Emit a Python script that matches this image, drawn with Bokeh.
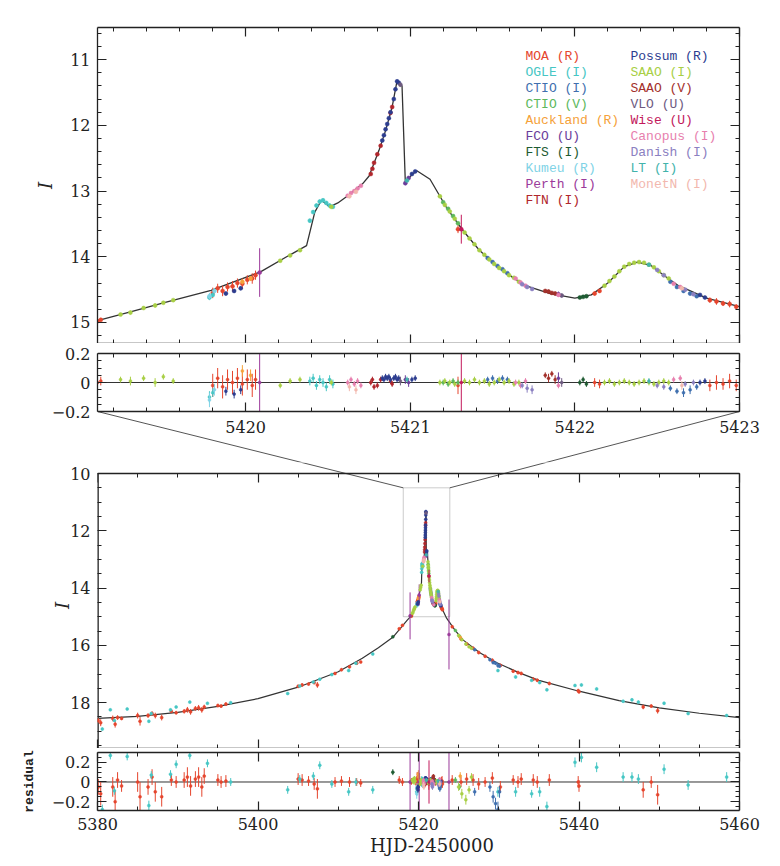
import numpy as np
from bokeh.plotting import figure
from bokeh.layouts import column
from bokeh.models import Range1d, LinearAxis, FixedTicker, ColumnDataSource, BoxAnnotation, Title
from bokeh.core.properties import value
from bokeh.embed import file_html
from bokeh.resources import INLINE

# ---------------- model light curve (HJD-2450000, I mag) ----------------
MODEL_T = [5380.0, 5385.0, 5390.0, 5395.0, 5400.0, 5405.0, 5410.0, 5413.0, 5415.0, 5416.8,
           5418.0, 5418.6, 5419.10, 5419.30, 5419.50, 5419.79, 5420.09, 5420.27, 5420.37, 5420.42,
           5420.46, 5420.51, 5420.56, 5420.61, 5420.71, 5420.75, 5420.81, 5420.85, 5420.89, 5420.92,
           5420.95, 5420.97, 5421.01, 5421.04, 5421.12, 5421.22, 5421.32, 5421.42, 5421.52, 5421.62,
           5421.70, 5421.85, 5422.00, 5422.10, 5422.20, 5422.30, 5422.38, 5422.46, 5422.55, 5422.63,
           5422.80, 5423.00, 5423.50, 5424.50, 5425.50, 5427.60, 5429.70, 5432.50, 5435.00, 5440.00,
           5445.00, 5450.00, 5455.00, 5460.00]
MODEL_I = [18.55, 18.48, 18.34, 18.13, 17.86, 17.46, 16.92, 16.45, 16.08, 15.72,
           15.32, 15.12, 14.97, 14.84, 14.70, 14.51, 14.23, 13.97, 13.83, 13.32,
           13.14, 13.24, 13.18, 13.09, 12.89, 12.77, 12.38, 12.08, 11.72, 11.32,
           11.40, 12.87, 12.75, 12.69, 12.82, 13.25, 13.60, 13.90, 14.13, 14.31,
           14.44, 14.56, 14.63, 14.58, 14.40, 14.15, 14.08, 14.13, 14.30, 14.44,
           14.63, 14.76, 15.05, 15.45, 15.80, 16.25, 16.60, 16.95, 17.22, 17.60,
           17.93, 18.18, 18.37, 18.52]

# ---------------- observations: time, I, error, residual ----------------
MOA_T = [5380.1, 5380.4, 5381.9, 5382.2, 5382.5, 5383.0, 5385.0, 5385.3, 5386.3, 5386.8, 5387.2, 5388.0,
         5389.2, 5389.8, 5390.8, 5391.2, 5391.6, 5392.2, 5392.6, 5393.0, 5393.3, 5395.0, 5395.4, 5396.0,
         5405.0, 5405.5, 5406.3, 5407.0, 5407.4, 5409.6, 5410.4, 5411.4, 5412.3, 5412.8, 5417.6, 5418.0,
         5419.10, 5419.12, 5419.80, 5419.83, 5419.86, 5419.89, 5419.92, 5419.95, 5419.98, 5420.01, 5420.04,
         5420.06, 5421.29, 5422.12, 5422.15, 5422.82, 5422.86, 5422.90, 5422.94, 5422.98,
         5424.2, 5425.3, 5426.0, 5426.8, 5427.5, 5428.3, 5429.2, 5430.2, 5431.8, 5432.4, 5432.8,
         5434.3, 5434.8, 5436.3, 5439.9, 5440.0, 5448.0, 5449.0, 5449.8]
MOA_I = [18.62, 18.70, 18.55, 18.75, 18.52, 18.55, 18.45, 18.65, 18.45, 18.38, 18.45, 18.52,
         18.30, 18.35, 18.30, 18.25, 18.32, 18.20, 18.18, 18.25, 18.15, 18.10, 18.12, 18.05,
         17.43, 17.38, 17.35, 17.30, 17.38, 16.98, 16.85, 16.75, 16.62, 16.58, 15.42, 15.30,
         14.98, 14.96, 14.55, 14.48, 14.52, 14.46, 14.45, 14.40, 14.41, 14.35, 14.33,
         14.28, 13.58, 14.56, 14.52, 14.66, 14.68, 14.71, 14.72, 14.76,
         15.35, 15.78, 15.95, 16.10, 16.25, 16.38, 16.52, 16.70, 16.90, 16.95, 16.98,
         17.18, 17.22, 17.33, 17.58, 17.62, 18.15, 18.12, 18.28]
MOA_E = [0.08, 0.12, 0.10, 0.12, 0.08, 0.06, 0.10, 0.15, 0.08, 0.08, 0.10, 0.10,
         0.06, 0.06, 0.08, 0.10, 0.10, 0.08, 0.10, 0.10, 0.08, 0.06, 0.06, 0.06,
         0.06, 0.06, 0.05, 0.06, 0.10, 0.05, 0.05, 0.05, 0.04, 0.04, 0.04, 0.04,
         0.03, 0.03, 0.08, 0.07, 0.08, 0.07, 0.08, 0.07, 0.08, 0.07, 0.08,
         0.07, 0.06, 0.03, 0.03, 0.04, 0.05, 0.04, 0.05, 0.04,
         0.05, 0.05, 0.06, 0.06, 0.06, 0.05, 0.06, 0.06, 0.05, 0.06, 0.06,
         0.06, 0.06, 0.06, 0.06, 0.06, 0.08, 0.06, 0.10]
MOA_R = [-0.05, -0.12, -0.05, -0.20, 0.02, -0.04, 0.00, -0.15, -0.05, 0.05, -0.10, -0.15,
         0.02, 0.00, 0.02, 0.05, -0.04, 0.03, 0.05, -0.05, 0.06, 0.02, 0.00, 0.01,
         0.03, 0.02, 0.01, -0.02, -0.07, 0.00, 0.01, 0.00, 0.00, -0.01, 0.02, 0.00,
         0.00, 0.01, -0.02, 0.03, -0.03, 0.02, 0.00, 0.03, -0.01, 0.02, -0.02,
         0.02, -0.02, 0.00, -0.01, -0.02, 0.00, -0.01, 0.01, -0.02,
         0.02, 0.00, 0.03, 0.02, -0.02, 0.00, 0.04, -0.05, 0.02, 0.00, 0.03,
         0.02, 0.00, 0.02, 0.00, -0.04, -0.08, 0.00, -0.13]

OGLE_T = [5380.6, 5381.6, 5382.1, 5383.7, 5386.4, 5386.7, 5389.1, 5389.8, 5391.5, 5393.7, 5396.6,
          5403.7, 5405.2, 5406.9, 5407.7, 5409.2, 5411.3, 5412.2, 5414.3,
          5419.78, 5419.80, 5420.39, 5420.41, 5420.43, 5420.45, 5420.47, 5420.49, 5420.51, 5420.53,
          5429.9, 5432.1, 5434.1, 5435.1, 5436.0, 5439.5, 5440.3, 5442.2, 5445.5, 5446.6, 5447.4,
          5450.6, 5453.6, 5458.4]
OGLE_I = [18.92, 18.25, 18.62, 18.22, 18.65, 18.38, 18.25, 18.15, 17.98, 18.02, 18.00,
          17.68, 17.42, 17.28, 17.18, 17.02, 16.88, 16.62, 16.30,
          14.62, 14.58, 13.45, 13.32, 13.22, 13.16, 13.14, 13.18, 13.22, 13.24,
          16.88, 17.10, 17.22, 17.30, 17.55, 17.40, 17.38, 17.52, 17.95, 17.90, 17.98,
          18.02, 18.38, 18.45]
OGLE_E = [0.05, 0.04, 0.04, 0.04, 0.05, 0.04, 0.04, 0.04, 0.04, 0.04, 0.04,
          0.04, 0.04, 0.04, 0.04, 0.04, 0.04, 0.04, 0.04,
          0.04, 0.03, 0.03, 0.03, 0.03, 0.03, 0.03, 0.03, 0.03, 0.03,
          0.05, 0.05, 0.04, 0.05, 0.05, 0.05, 0.05, 0.05, 0.05, 0.05, 0.05,
          0.05, 0.05, 0.05]
OGLE_R = [-0.28, 0.27, -0.09, 0.26, -0.24, 0.07, 0.08, 0.18, 0.27, 0.19, 0.00,
          -0.08, 0.03, 0.06, 0.17, -0.02, -0.10, 0.00, -0.08,
          -0.10, -0.07, 0.01, 0.03, -0.02, 0.02, 0.00, -0.03, 0.02, -0.01,
          -0.10, -0.10, -0.12, -0.10, -0.25, 0.20, 0.25, 0.15, 0.05, 0.05, 0.03,
          0.13, -0.03, 0.05]

SAAOI_T = [5419.24, 5419.30, 5419.38, 5419.45, 5419.50, 5419.56, 5420.21, 5420.27, 5420.33, 5420.52,
           5421.18, 5421.21, 5421.24, 5421.27, 5421.33, 5421.36, 5421.39, 5421.42, 5421.45, 5421.48,
           5421.51, 5421.54, 5421.57, 5421.60, 5421.63, 5421.66,
           5422.18, 5422.21, 5422.24, 5422.27, 5422.30, 5422.33, 5422.36, 5422.39, 5422.42, 5422.45,
           5422.48, 5422.51, 5422.54, 5422.57,
           5425.0, 5425.4, 5425.9, 5426.3, 5426.6]
SAAOI_I = [14.88, 14.85, 14.78, 14.74, 14.70, 14.66, 14.06, 13.98, 13.90, 13.24,
           13.08, 13.21, 13.31, 13.42, 13.63, 13.72, 13.81, 13.90, 13.97, 14.04,
           14.11, 14.17, 14.22, 14.28, 14.32, 14.38,
           14.44, 14.37, 14.30, 14.22, 14.15, 14.11, 14.09, 14.08, 14.09, 14.12,
           14.16, 14.22, 14.28, 14.33,
           15.65, 15.80, 15.95, 16.05, 16.10]
SAAOI_E = [0.02, 0.03, 0.02, 0.03, 0.02, 0.02, 0.02, 0.02, 0.02, 0.02,
           0.02, 0.02, 0.02, 0.02, 0.02, 0.02, 0.02, 0.02, 0.02, 0.02,
           0.02, 0.02, 0.02, 0.02, 0.02, 0.02,
           0.02, 0.02, 0.02, 0.02, 0.02, 0.02, 0.02, 0.02, 0.02, 0.02,
           0.02, 0.02, 0.02, 0.02,
           0.04, 0.05, 0.05, 0.04, 0.04]
SAAOI_R = [0.02, 0.01, 0.03, 0.00, 0.04, 0.01, -0.02, 0.01, 0.02, 0.00,
           0.00, 0.01, 0.00, -0.01, 0.01, 0.00, 0.02, 0.00, 0.01, -0.01,
           0.00, 0.02, 0.00, 0.01, -0.01, 0.00,
           0.00, 0.01, -0.01, 0.00, 0.01, 0.00, -0.01, 0.00, 0.01, 0.00,
           -0.01, 0.00, 0.01, 0.00,
           -0.05, -0.12, -0.18, -0.08, 0.05]

SAAOV_T = [5421.82, 5421.84, 5421.86, 5421.88]
SAAOV_I = [14.52, 14.53, 14.55, 14.56]
SAAOV_E = [0.02, 0.03, 0.02, 0.03]
SAAOV_R = [0.05, 0.03, 0.06, 0.02]

CTIOI_T = [5421.47, 5421.50, 5421.53, 5421.56, 5421.59, 5422.58, 5422.62, 5422.66, 5422.70, 5422.74,
           5427.0, 5428.9, 5429.3, 5429.6, 5429.9, 5430.1]
CTIOI_I = [14.02, 14.08, 14.14, 14.19, 14.25, 14.38, 14.46, 14.52, 14.56, 14.60,
           16.15, 16.50, 16.60, 16.62, 16.70, 16.72]
CTIOI_E = [0.02, 0.02, 0.02, 0.02, 0.02, 0.02, 0.02, 0.03, 0.03, 0.02,
           0.04, 0.05, 0.06, 0.06, 0.08, 0.06]
CTIOI_R = [0.02, 0.03, 0.01, 0.03, 0.02, -0.04, -0.06, -0.07, -0.05, -0.03,
           -0.10, -0.05, -0.15, -0.22, -0.28, -0.10]

CTIOV_T = [5421.20, 5421.23, 5421.26, 5421.29, 5424.6, 5425.1]
CTIOV_I = [13.17, 13.27, 13.38, 13.49, 15.48, 15.68]
CTIOV_E = [0.02, 0.02, 0.02, 0.02, 0.03, 0.03]
CTIOV_R = [0.00, -0.01, 0.01, 0.00, 0.02, -0.05]

AUCK_T = [5419.98, 5420.03, 5425.2]
AUCK_I = [14.38, 14.33, 15.72]
AUCK_E = [0.04, 0.04, 0.04]
AUCK_R = [0.08, 0.05, 0.06]

FCO_T = [5420.97, 5420.99, 5421.90]
FCO_I = [12.88, 12.80, 14.57]
FCO_E = [0.03, 0.03, 0.04]
FCO_R = [0.02, 0.00, 0.03]

FTS_T = [5416.8, 5422.03, 5422.05, 5422.07]
FTS_I = [15.70, 14.62, 14.61, 14.60]
FTS_E = [0.03, 0.02, 0.02, 0.02]
FTS_R = [0.10, 0.00, 0.02, -0.01]

KUMEU_T = [5419.78, 5419.81]
KUMEU_I = [14.60, 14.52]
KUMEU_E = [0.05, 0.04]
KUMEU_R = [-0.12, -0.05]

PERTH_T = [5418.95, 5420.085, 5423.8]
PERTH_I = [14.97, 14.24, 15.62]
PERTH_E = [0.82, 0.37, 1.22]
PERTH_R = [0.00, 0.00, 0.00]

FTN_T = [5420.76, 5420.77, 5420.78, 5420.80, 5420.82, 5420.88, 5420.89]
FTN_I = [12.74, 12.66, 12.57, 12.44, 12.31, 11.81, 11.72]
FTN_E = [0.02, 0.02, 0.02, 0.02, 0.02, 0.02, 0.02]
FTN_R = [0.00, 0.02, -0.03, -0.02, 0.02, 0.01, -0.01]

POSSUM_T = [5419.88, 5419.93, 5419.97, 5420.83, 5420.84, 5420.85, 5420.86, 5420.87, 5420.88, 5420.90,
            5420.91, 5420.92, 5420.93, 5421.01, 5421.03, 5422.76, 5422.79]
POSSUM_I = [14.56, 14.52, 14.48, 12.23, 12.15, 12.06, 11.98, 11.89, 11.80, 11.60,
            11.45, 11.33, 11.35, 12.74, 12.70, 14.58, 14.62]
POSSUM_E = [0.03, 0.03, 0.03, 0.02, 0.02, 0.02, 0.02, 0.02, 0.02, 0.02,
            0.02, 0.02, 0.02, 0.02, 0.02, 0.02, 0.02]
POSSUM_R = [-0.06, -0.08, -0.05, 0.03, 0.02, 0.04, 0.03, 0.04, 0.02, 0.03,
            0.04, 0.02, 0.03, 0.02, 0.03, 0.00, 0.01]

VLO_T = [5420.94, 5421.92]
VLO_I = [11.38, 14.59]
VLO_E = [0.03, 0.03]
VLO_R = [0.01, 0.00]

WISE_T = [5421.31]
WISE_I = [13.58]
WISE_E = [0.22]
WISE_R = [0.00]

CANOPUS_T = [5420.62, 5420.64, 5420.66, 5420.68, 5420.70, 5421.64, 5421.67, 5421.70, 5421.90, 5422.60, 5422.64]
CANOPUS_I = [13.07, 13.03, 13.00, 12.96, 12.92, 14.33, 14.39, 14.44, 14.58, 14.41, 14.46]
CANOPUS_E = [0.02, 0.02, 0.02, 0.02, 0.02, 0.02, 0.02, 0.02, 0.02, 0.02, 0.02]
CANOPUS_R = [0.00, 0.02, -0.01, 0.01, -0.02, 0.00, -0.02, 0.01, -0.02, 0.02, 0.03]

DANISH_T = [5421.68, 5421.71, 5421.74, 5422.50, 5422.54, 5422.67, 5422.72]
DANISH_I = [14.42, 14.46, 14.49, 14.20, 14.28, 14.50, 14.57]
DANISH_E = [0.02, 0.03, 0.03, 0.02, 0.02, 0.02, 0.02]
DANISH_R = [-0.02, -0.04, -0.05, -0.02, -0.03, -0.01, 0.00]

LT_T = [5420.98, 5422.45]
LT_I = [12.84, 14.12]
LT_E = [0.02, 0.02]
LT_R = [0.02, 0.01]

MONETN_T = [5420.63, 5420.67, 5422.65]
MONETN_I = [13.08, 13.01, 14.48]
MONETN_E = [0.03, 0.03, 0.03]
MONETN_R = [-0.03, -0.05, -0.02]

# legend entries: (label, colour, data)
SERIES_COL1 = [
    ("MOA (R)", "#e5452d", (MOA_T, MOA_I, MOA_E, MOA_R)),
    ("OGLE (I)", "#46c6c4", (OGLE_T, OGLE_I, OGLE_E, OGLE_R)),
    ("CTIO (I)", "#3f6fae", (CTIOI_T, CTIOI_I, CTIOI_E, CTIOI_R)),
    ("CTIO (V)", "#5cb85c", (CTIOV_T, CTIOV_I, CTIOV_E, CTIOV_R)),
    ("Auckland (R)", "#f5a13a", (AUCK_T, AUCK_I, AUCK_E, AUCK_R)),
    ("FCO (U)", "#6a3d9a", (FCO_T, FCO_I, FCO_E, FCO_R)),
    ("FTS (I)", "#1e5b32", (FTS_T, FTS_I, FTS_E, FTS_R)),
    ("Kumeu (R)", "#7fd3e6", (KUMEU_T, KUMEU_I, KUMEU_E, KUMEU_R)),
    ("Perth (I)", "#9b3a9a", (PERTH_T, PERTH_I, PERTH_E, PERTH_R)),
    ("FTN (I)", "#b0262c", (FTN_T, FTN_I, FTN_E, FTN_R)),
]
SERIES_COL2 = [
    ("Possum (R)", "#2c3d8f", (POSSUM_T, POSSUM_I, POSSUM_E, POSSUM_R)),
    ("SAAO (I)", "#a8cf45", (SAAOI_T, SAAOI_I, SAAOI_E, SAAOI_R)),
    ("SAAO (V)", "#a3302b", (SAAOV_T, SAAOV_I, SAAOV_E, SAAOV_R)),
    ("VLO (U)", "#6d5a7f", (VLO_T, VLO_I, VLO_E, VLO_R)),
    ("Wise (U)", "#c2185b", (WISE_T, WISE_I, WISE_E, WISE_R)),
    ("Canopus (I)", "#e77fae", (CANOPUS_T, CANOPUS_I, CANOPUS_E, CANOPUS_R)),
    ("Danish (I)", "#8b80c1", (DANISH_T, DANISH_I, DANISH_E, DANISH_R)),
    ("LT (I)", "#42b3ab", (LT_T, LT_I, LT_E, LT_R)),
    ("MonetN (I)", "#f2b8ae", (MONETN_T, MONETN_I, MONETN_E, MONETN_R)),
]

# zoom window and panel ranges
ZOOM_X = (5419.1, 5423.0)
ZOOM_Y = (15.32, 10.51)
FULL_X = (5380.0, 5460.0)
FULL_Y = (19.6, 10.0)
RES_TOP = (-0.2, 0.2)
RES_BOT = (-0.29, 0.30)
BOX_X = (5418.1, 5423.9)
BOX_Y = (10.5, 15.0)

# ---------------- layout constants (pixels) ----------------
W = 770
ML = 97
FW = 642                               # width of every drawn panel
MRB = 4                                # canvas border on the right
EXT = W - ML - MRB - FW                # frame room right of each panel (keeps last tick label unclipped)
A_T, A_F, A_B = 27, 316, 0             # top light-curve panel
B_H = 119                              # residual panel + gap (one canvas)
B_PT, B_PH = 10, 58                    # residual box offset and height inside that canvas
C_H, C_EXT, C_B = 286, 11, 0           # lower light curve canvas, space above I=10, bottom border
D_T, D_F, D_B = 4, 59, 47              # lower residual panel

NUM_FONT = "DejaVu Serif"
INK = "#222222"
GREY = "#555555"

dx_z = (ZOOM_X[1] - ZOOM_X[0]) / FW
dx_f = (FULL_X[1] - FULL_X[0]) / FW
ZX_R = (ZOOM_X[0], ZOOM_X[1] + EXT * dx_z)
FX_R = (FULL_X[0], FULL_X[1] + EXT * dx_f)


def make_fig(height, xr, yr, mbt, mbb):
    p = figure(width=W, height=height,
               x_range=Range1d(*xr), y_range=Range1d(*yr),
               x_axis_type=None, y_axis_type=None,
               output_backend="svg", toolbar_location=None,
               min_border_left=ML, min_border_right=MRB,
               min_border_top=mbt, min_border_bottom=mbb)
    p.outline_line_color = None
    p.background_fill_color = "white"
    p.border_fill_color = "white"
    return p


def add_axes(p, xt, xm, yt, ym, xbounds, right_at, xlab=False, yover=None,
             lbounds=None, rbounds=None, left_line=True, top_at=None, bottom_at=None,
             ylabel=None, ylabel_style="italic", ylabel_size="18px", ylabel_font=NUM_FONT,
             ylabel_standoff=12, xlabel=None, xlabel_standoff=9):
    for side in ("left", "right", "above", "below"):
        horiz = side in ("above", "below")
        ax = LinearAxis(ticker=FixedTicker(ticks=xt if horiz else yt,
                                           minor_ticks=xm if horiz else ym))
        ax.axis_line_color = INK
        ax.axis_line_width = 1.3
        ax.major_tick_in = 9
        ax.major_tick_out = 0
        ax.minor_tick_in = 4
        ax.minor_tick_out = 0
        ax.major_tick_line_color = INK
        ax.minor_tick_line_color = INK
        ax.major_tick_line_width = 1.2
        ax.minor_tick_line_width = 1
        if horiz:
            ax.bounds = xbounds
        if side == "left":
            if lbounds is not None:
                ax.bounds = lbounds
            if not left_line:
                ax.axis_line_color = None
        if side == "right":
            ax.fixed_location = right_at
            if rbounds is not None:
                ax.bounds = rbounds
        if side == "above" and top_at is not None:
            ax.fixed_location = top_at
        if side == "below" and bottom_at is not None:
            ax.fixed_location = bottom_at
        labeled = side == "left" or (side == "below" and xlab)
        if labeled:
            ax.major_label_text_font = NUM_FONT
            ax.major_label_text_font_size = "16px"
            ax.major_label_text_color = INK
            ax.major_label_standoff = 7 if side == "left" else xlabel_standoff
            if side == "left" and yover:
                ax.major_label_overrides = yover
            if side == "left" and ylabel:
                ax.axis_label = ylabel
                ax.axis_label_text_font = ylabel_font
                ax.axis_label_text_font_style = ylabel_style
                ax.axis_label_text_font_size = ylabel_size
                ax.axis_label_text_color = INK
                ax.axis_label_standoff = ylabel_standoff
            if side == "below" and xlabel:
                ax.axis_label = xlabel
                ax.axis_label_text_font = NUM_FONT
                ax.axis_label_text_font_style = "normal"
                ax.axis_label_text_font_size = "18px"
                ax.axis_label_text_color = INK
                ax.axis_label_standoff = 2
        else:
            ax.major_label_text_font_size = "0px"
            ax.major_label_standoff = 0
            ax.major_label_text_color = None
        p.add_layout(ax, side)


ALL_SERIES = SERIES_COL1 + SERIES_COL2


def draw_data(p, xlim, residual=False, size=3.5, clip=None):
    for name, col, (t, mag, err, res) in ALL_SERIES:
        t = np.asarray(t, float)
        y = np.asarray(res if residual else mag, float)
        e = np.asarray(err, float)
        keep = (t >= xlim[0]) & (t <= xlim[1])
        t, y, e = t[keep], y[keep], e[keep]
        if len(t) == 0:
            continue
        lo, hi = y - e, y + e
        if clip is not None:
            lo, hi = np.clip(lo, *clip), np.clip(hi, *clip)
        p.segment(x0=t, y0=lo, x1=t, y1=hi, line_color=col, line_width=1)
        p.scatter(x=t, y=y, size=size, marker="circle", fill_color=col, line_color=col, line_width=0.5)


def draw_model(p, xlim, width):
    t = np.asarray(MODEL_T, float)
    m = np.asarray(MODEL_I, float)
    keep = (t >= xlim[0]) & (t <= xlim[1])
    p.line(t[keep], m[keep], line_color="#333333", line_width=width)


ZOOM_MAJOR = [5420, 5421, 5422, 5423]
ZOOM_MINOR = [round(v, 2) for v in np.arange(5419.2, 5423.0, 0.2) if abs(v - round(v)) > 0.01]
FULL_MAJOR = [5380, 5400, 5420, 5440, 5460]
FULL_MINOR = [t for t in range(5385, 5460, 5) if t % 20 != 0]
RES_MINOR = [-0.15, -0.1, -0.05, 0.05, 0.1, 0.15]
RES_OVER = {-0.2: "\u22120.2", 0: "0", 0.2: "0.2"}

# ---------------- panel A : zoomed light curve ----------------
pA = make_fig(A_T + A_F + A_B, ZX_R, ZOOM_Y, A_T, A_B)
add_axes(pA, ZOOM_MAJOR, ZOOM_MINOR,
         [11, 12, 13, 14, 15], [round(v, 2) for v in np.arange(10.6, 15.32, 0.2) if abs(v - round(v)) > 0.01],
         xbounds=ZOOM_X, right_at=ZOOM_X[1], ylabel="I", ylabel_standoff=11)
draw_model(pA, ZOOM_X, 1.3)
draw_data(pA, ZOOM_X, size=4)

# legend as coloured text
span_x = ZOOM_X[1] - ZOOM_X[0]
span_y = ZOOM_Y[0] - ZOOM_Y[1]
col_px = [525 - ML, 630 - ML]
lx, ly, lt, lc = [], [], [], []
for ci, entries in enumerate((SERIES_COL1, SERIES_COL2)):
    for ri, (name, col, _) in enumerate(entries):
        lx.append(ZOOM_X[0] + col_px[ci] * dx_z)
        ly.append(ZOOM_Y[1] + (29 + 16 * ri) / A_F * span_y)
        lt.append(name)
        lc.append(col)
pA.text(x="x", y="y", text="text", text_color="color",
        source=ColumnDataSource(dict(x=lx, y=ly, text=lt, color=lc)),
        text_font=value("Liberation Mono"), text_font_size="13px",
        text_baseline="middle", text_align="left")

# ---------------- panel B : zoomed residuals (canvas also holds the gap below) ----------------
s_b = (RES_TOP[1] - RES_TOP[0]) / B_PH
B_YR = (RES_TOP[0] - (B_H - B_PT - B_PH) * s_b, RES_TOP[1] + B_PT * s_b)
pB = make_fig(B_H, ZX_R, B_YR, 0, 0)
add_axes(pB, ZOOM_MAJOR, ZOOM_MINOR, [-0.2, 0, 0.2], RES_MINOR, xbounds=ZOOM_X, right_at=ZOOM_X[1],
         xlab=True, yover=RES_OVER, lbounds=RES_TOP, rbounds=RES_TOP,
         top_at=RES_TOP[1], bottom_at=RES_TOP[0])
pB.segment(x0=[ZOOM_X[0]], y0=[0], x1=[ZOOM_X[1]], y1=[0], line_color="#333333", line_width=1)
draw_data(pB, ZOOM_X, residual=True, size=3, clip=RES_TOP)

# ---------------- panel C : full light curve ----------------
s_c = (FULL_Y[0] - FULL_Y[1]) / (C_H - C_B - C_EXT)
C_YR = (FULL_Y[0], FULL_Y[1] - C_EXT * s_c)
pC = make_fig(C_H, FX_R, C_YR, 0, C_B)
add_axes(pC, FULL_MAJOR, FULL_MINOR,
         [10, 12, 14, 16, 18], [10.5, 11, 11.5, 12.5, 13, 13.5, 14.5, 15, 15.5, 16.5, 17, 17.5, 18.5, 19, 19.5],
         xbounds=FULL_X, right_at=FULL_X[1], rbounds=(FULL_Y[1], FULL_Y[0]), left_line=False,
         top_at=FULL_Y[1])
pC.add_layout(Title(text="I", text_font=NUM_FONT, text_font_style="italic", text_font_size="18px",
                    text_color=INK, align="center", standoff=-10), "left")
# left edge of the lower panel (stops at I = 10, the top of the panel)
pC.segment(x0=[FULL_X[0]], y0=[FULL_Y[1]], x1=[FULL_X[0]], y1=[FULL_Y[0]], line_color=INK, line_width=2.6)
draw_model(pC, FULL_X, 1.2)
draw_data(pC, FULL_X, size=3)
pC.add_layout(BoxAnnotation(left=BOX_X[0], right=BOX_X[1], top=BOX_Y[0], bottom=BOX_Y[1],
                            fill_alpha=0, line_color=GREY, line_width=1))

# ---------------- panel D : full residuals ----------------
pD = make_fig(D_T + D_F + D_B, FX_R, RES_BOT, D_T, D_B)
add_axes(pD, FULL_MAJOR, FULL_MINOR,
         [-0.2, 0, 0.2], [-0.25, -0.15, -0.1, -0.05, 0.05, 0.1, 0.15, 0.25],
         xbounds=FULL_X, right_at=FULL_X[1], xlab=True, yover=RES_OVER,
         ylabel="residual", ylabel_style="bold", ylabel_size="13px",
         ylabel_font="Liberation Mono", ylabel_standoff=12, xlabel="HJD-2450000", xlabel_standoff=7)
pD.segment(x0=[FULL_X[0]], y0=[0], x1=[FULL_X[1]], y1=[0], line_color="#333333", line_width=1)
draw_data(pD, FULL_X, residual=True, size=3)

# ---------------- connecting lines: residual-panel corners -> zoom box corners ----------------
# pixel frame with origin at the top of canvas B
yB_res_bot = B_PT + B_PH
yC_I10 = B_H + C_EXT


def px_full(t):
    return ML + (t - FULL_X[0]) / dx_f


def py_full(m):
    return yC_I10 + (m - FULL_Y[1]) / s_c


def to_B(px, py):
    return (ZOOM_X[0] + (px - ML) * dx_z, RES_TOP[1] - (py - B_PT) * s_b)


def to_C(px, py):
    return (FULL_X[0] + (px - ML) * dx_f, FULL_Y[1] + (py - yC_I10) * s_c)


for corner_px, box_t in ((ML, BOX_X[0]), (ML + FW, BOX_X[1])):
    p0 = (corner_px, yB_res_bot)
    p1 = (px_full(box_t), py_full(BOX_Y[0]))
    b0, b1 = to_B(*p0), to_B(*p1)
    c0, c1 = to_C(*p0), to_C(*p1)
    pB.line([b0[0], b1[0]], [b0[1], b1[1]], line_color=GREY, line_width=1)
    pC.line([c0[0], c1[0]], [c0[1], c1[1]], line_color=GREY, line_width=1)

layout = column(pA, pB, pC, pD)
open("out.html", "w").write(file_html(layout, INLINE))
